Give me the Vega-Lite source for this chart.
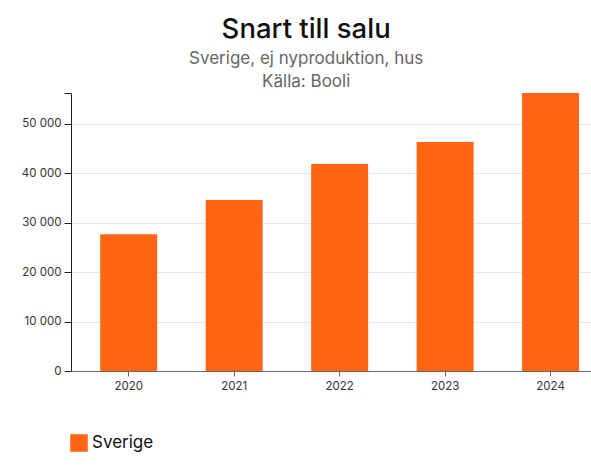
{
  "$schema": "https://vega.github.io/schema/vega-lite/v6.json",
  "autosize": {"type": "none"},
  "width": 520,
  "height": 278,
  "padding": {"left": 71, "top": 93, "right": 0, "bottom": 100},
  "background": "white",
  "title": {
    "text": "Snart till salu",
    "subtitle": ["Sverige, ej nyproduktion, hus", "Källa: Booli"],
    "anchor": "middle",
    "frame": "bounds",
    "font": "Inter",
    "fontSize": 27.5,
    "fontWeight": 500,
    "color": "#111",
    "subtitleFont": "Inter",
    "subtitleFontSize": 17,
    "subtitleColor": "#666",
    "subtitleLineHeight": 23,
    "subtitlePadding": 7,
    "offset": 3
  },
  "data": {
    "values": [
      {"year": "2020", "region": "Sverige", "value": 27670},
      {"year": "2021", "region": "Sverige", "value": 34550},
      {"year": "2022", "region": "Sverige", "value": 41840},
      {"year": "2023", "region": "Sverige", "value": 46300},
      {"year": "2024", "region": "Sverige", "value": 56210}
    ]
  },
  "mark": {"type": "bar"},
  "encoding": {
    "x": {
      "field": "year",
      "type": "ordinal",
      "scale": {"paddingInner": 0.46, "paddingOuter": 0.195, "align": 0.71},
      "axis": {
        "title": null,
        "labelAngle": 0,
        "labelFont": "Inter",
        "labelFontSize": 11.5,
        "labelColor": "#333",
        "domainColor": "#666",
        "tickColor": "#666",
        "tickSize": 5,
        "labelPadding": 4
      }
    },
    "y": {
      "field": "value",
      "type": "quantitative",
      "scale": {"domain": [0, 56210], "nice": false},
      "axis": {
        "title": null,
        "values": [0, 10000, 20000, 30000, 40000, 50000, 56210],
        "labelExpr": "datum.value > 55000 ? '' : replace(format(datum.value, ',d'), ',', ' ')",
        "labelFont": "Inter",
        "labelFontSize": 11.5,
        "labelColor": "#333",
        "domainColor": "#222",
        "tickColor": "#222",
        "tickSize": 7,
        "labelPadding": 3,
        "gridColor": "#e9e9e9",
        "gridOpacity": {"condition": {"test": "datum.value > 55000 || datum.value == 0", "value": 0}, "value": 1}
      }
    },
    "color": {
      "field": "region",
      "type": "nominal",
      "scale": {"range": ["#ff6512"]},
      "legend": {
        "title": null,
        "orient": "none",
        "legendX": -1,
        "legendY": 341,
        "symbolType": "square",
        "symbolSize": 306,
        "symbolStrokeWidth": 0,
        "labelFont": "Inter",
        "labelFontSize": 17,
        "labelColor": "#111",
        "labelOffset": 4
      }
    }
  },
  "config": {"view": {"stroke": null}}
}
